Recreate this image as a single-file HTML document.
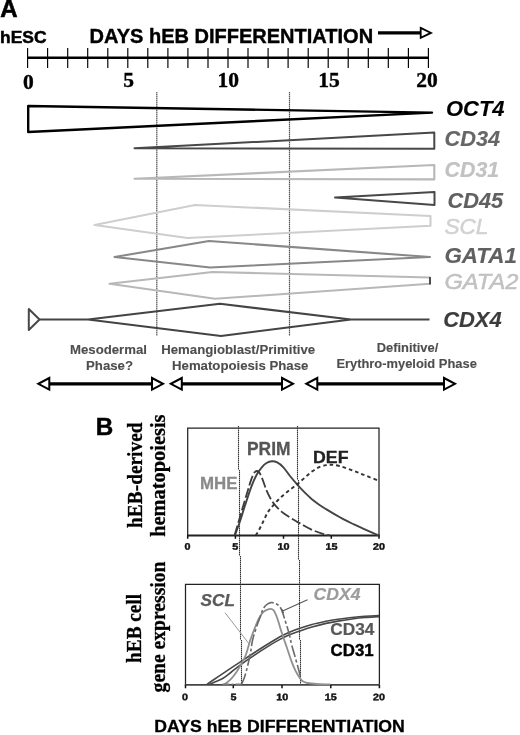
<!DOCTYPE html>
<html>
<head>
<meta charset="utf-8">
<title>Figure</title>
<style>
html,body{margin:0;padding:0;background:#fff;}
svg{display:block;filter:blur(0.4px);}
svg{font-family:"Liberation Sans",Arial,sans-serif;}
.bs{font-family:"Liberation Sans",Arial,sans-serif;font-weight:bold;}
.bi{font-family:"Liberation Sans",Arial,sans-serif;font-weight:bold;font-style:italic;}
.se{font-family:"Liberation Serif","Times New Roman",serif;font-weight:bold;}
</style>
</head>
<body>
<svg width="520" height="735" viewBox="0 0 520 735">
<rect width="520" height="735" fill="#fff"/>

<!-- ===== Panel A header ===== -->
<text class="bs" x="0.2" y="17.3" font-size="24" fill="#000" stroke="#000" stroke-width="0.6">A</text>
<text class="bs" x="0.1" y="42.9" font-size="17.2" fill="#000" stroke="#000" stroke-width="0.5" textLength="46.4" lengthAdjust="spacingAndGlyphs">hESC</text>
<text class="bs" x="89.6" y="42.9" font-size="20" fill="#000" stroke="#000" stroke-width="0.4" textLength="283.5" lengthAdjust="spacingAndGlyphs">DAYS hEB DIFFERENTIATION</text>
<!-- header arrow -->
<line x1="378" y1="32.9" x2="421" y2="32.9" stroke="#000" stroke-width="3.4"/>
<path d="M420.7 27.9 L431 32.9 L420.7 37.9 Z" fill="#fff" stroke="#000" stroke-width="1.8"/>

<!-- axis -->
<g stroke="#000" stroke-width="1.15" fill="none">
<line x1="27.5" y1="57.8" x2="428.5" y2="57.8" stroke-width="2.4"/>
<path d="M27.6 48V68 M47.6 48V68 M67.7 48V68 M87.7 48V68 M107.8 48V68 M127.8 48V68 M147.8 48V68 M167.9 48V68 M187.9 48V68 M208 48V68 M228 48V68 M248 48V68 M268.1 48V68 M288.1 48V68 M308.2 48V68 M328.2 48V68 M348.2 48V68 M368.3 48V68 M388.3 48V68 M408.4 48V68 M428.4 48V68"/>
</g>
<g class="se" font-size="21.5" fill="#000" stroke="#000" stroke-width="0.4" text-anchor="middle">
<text x="28.3" y="88.8">0</text>
<text x="128.7" y="87.1">5</text>
<text x="228.3" y="87.1">10</text>
<text x="328.9" y="86.6">15</text>
<text x="427.1" y="86.6">20</text>
</g>

<!-- vertical dotted lines panel A -->
<g stroke="#555" stroke-width="1.2" stroke-dasharray="1.4 0.6" fill="none">
<line x1="156.8" y1="92" x2="156.8" y2="336"/>
<line x1="289.5" y1="92" x2="289.5" y2="336"/>
</g>

<!-- shapes -->
<g fill="none" stroke-linejoin="round">
<!-- OCT4 -->
<path d="M432 112.6 L28.2 106 L28.2 132 Z" stroke="#000" stroke-width="2.4" stroke-linejoin="round"/>
<!-- CD34 -->
<path d="M134.5 148.3 L434.3 132.6 L434.3 148.8 Z" stroke="#484848" stroke-width="2"/>
<!-- CD31 -->
<path d="M134.5 178.8 L434.3 165 L434.3 179.4 Z" stroke="#b8b8b8" stroke-width="2.1"/>
<!-- CD45 -->
<path d="M335 197.5 L434.5 192 L434.5 205 Z" stroke="#484848" stroke-width="2"/>
<!-- SCL -->
<path d="M94.5 225 L195 205 L430.5 216 L430.5 225.8 L187.5 238 Z" stroke="#cecece" stroke-width="2.1"/>
<!-- GATA1 -->
<path d="M114.5 257 L209 241 L430 257 L210 267.5 Z" stroke="#888" stroke-width="2.1"/>
<!-- GATA2 -->
<path d="M109.5 283.8 L212.5 272 L430 277.5 L430 283.8 L215 298.8 Z" stroke="#b8b8b8" stroke-width="2.1"/>
<line x1="430" y1="277" x2="430" y2="284.5" stroke="#333" stroke-width="1.6"/>
<!-- CDX4 -->
<path d="M28.8 309 L39.5 319.5 L28.8 330 Z" stroke="#484848" stroke-width="2"/>
<path d="M39.5 319.5 L88 319.5 L220 303.8 L351 319.5 L429.5 319.5 M351 319.5 L221 336 L88 319.5" stroke="#444" stroke-width="2.1"/>
</g>

<!-- gene labels -->
<g class="bi" font-size="22" stroke-width="0.15">
<text x="446" y="116.4" fill="#000" stroke="#000" textLength="58.5" lengthAdjust="spacingAndGlyphs">OCT4</text>
<text x="444.6" y="146.4" fill="#666" stroke="#666" textLength="55.5" lengthAdjust="spacingAndGlyphs">CD34</text>
<text x="444.6" y="177" fill="#c2c2c2" stroke="#c2c2c2" stroke-width="0.2" textLength="54.5" lengthAdjust="spacingAndGlyphs">CD31</text>
<text x="447.6" y="208" fill="#606060" stroke="#606060" textLength="55.5" lengthAdjust="spacingAndGlyphs">CD45</text>
<text x="444.4" y="234.3" fill="#d2d2d2" stroke="#d0d0d0" stroke-width="0.5" font-weight="normal" textLength="44" lengthAdjust="spacingAndGlyphs">SCL</text>
<text x="444.4" y="262.8" fill="#606060" stroke="#606060" textLength="72.5" lengthAdjust="spacingAndGlyphs">GATA1</text>
<text x="444.4" y="289" fill="#c2c2c2" stroke="#c0c0c0" stroke-width="0.5" font-weight="normal" textLength="74" lengthAdjust="spacingAndGlyphs">GATA2</text>
<text x="443.2" y="327.4" fill="#3c3c3c" stroke="#3c3c3c" textLength="58.5" lengthAdjust="spacingAndGlyphs">CDX4</text>
</g>

<!-- phase labels -->
<g class="bs" font-size="13.2" fill="#4e4e4e" stroke="#4e4e4e" stroke-width="0.12" text-anchor="middle">
<text x="108.5" y="353.8">Mesodermal</text>
<text x="109.5" y="369.8">Phase?</text>
<text x="238.2" y="353.8">Hemangioblast/Primitive</text>
<text x="240.2" y="369.8">Hematopoiesis Phase</text>
<text x="407.5" y="351.8" font-size="12.9">Definitive/</text>
<text x="406.6" y="367.9" font-size="12.9">Erythro-myeloid Phase</text>
</g>

<!-- phase arrows -->
<g stroke="#000" fill="#fff">
<line x1="48" y1="383.8" x2="152" y2="383.8" stroke-width="3.2"/>
<path d="M49.3 378 L38.3 383.8 L49.3 389.6 Z" stroke-width="2"/>
<path d="M152 378 L163 383.8 L152 389.6 Z" stroke-width="2"/>
<line x1="181" y1="383.8" x2="282" y2="383.8" stroke-width="3.2"/>
<path d="M181.8 378 L170.8 383.8 L181.8 389.6 Z" stroke-width="2"/>
<path d="M282 378 L293 383.8 L282 389.6 Z" stroke-width="2"/>
<line x1="317" y1="383.8" x2="444" y2="383.8" stroke-width="3.2"/>
<path d="M317.3 378 L306.3 383.8 L317.3 389.6 Z" stroke-width="2"/>
<path d="M444 378 L455 383.8 L444 389.6 Z" stroke-width="2"/>
</g>

<!-- ===== Panel B ===== -->
<text class="bs" x="95.8" y="434.6" font-size="24.2" fill="#000" stroke="#000" stroke-width="0.5">B</text>

<!-- y labels -->
<g class="se" font-size="21" fill="#000" stroke="#000" stroke-width="0.3" lengthAdjust="spacingAndGlyphs">
<text transform="translate(142.2 527.9) rotate(-90)" textLength="105.4" lengthAdjust="spacingAndGlyphs">hEB-derived</text>
<text transform="translate(164.9 536.8) rotate(-90)" textLength="122.3" lengthAdjust="spacingAndGlyphs">hematopoiesis</text>
<text transform="translate(141.3 662.9) rotate(-90)" textLength="69" lengthAdjust="spacingAndGlyphs">hEB cell</text>
<text transform="translate(164.9 692.4) rotate(-90)" textLength="130.9" lengthAdjust="spacingAndGlyphs">gene expression</text>
</g>

<!-- top chart -->
<path d="M187.7 535.6 V428 H379 V535.6" fill="none" stroke="#222" stroke-width="1.25"/>
<line x1="187" y1="535.5" x2="379.7" y2="535.5" stroke="#222" stroke-width="2"/>
<path d="M187.7 535.6v3.2 M235.4 535.6v3.2 M283.5 535.6v3.2 M331.3 535.6v3.2 M379 535.6v3.2" stroke="#111" stroke-width="1.5" fill="none"/>
<g class="bs" font-size="9.5" fill="#111" stroke="#111" stroke-width="0.4">
<text transform="translate(184.6 549.7) rotate(0.05)" textLength="6.0" lengthAdjust="spacingAndGlyphs">0</text><text transform="translate(232.3 549.7) rotate(0.05)" textLength="6.0" lengthAdjust="spacingAndGlyphs">5</text><text transform="translate(277.5 549.7) rotate(0.05)" textLength="12.0" lengthAdjust="spacingAndGlyphs">10</text><text transform="translate(325.6 549.7) rotate(0.05)" textLength="12.0" lengthAdjust="spacingAndGlyphs">15</text><text transform="translate(372.9 549.7) rotate(0.05)" textLength="12.0" lengthAdjust="spacingAndGlyphs">20</text>
</g>
<!-- dotted verticals panel B -->
<g stroke="#333" stroke-width="1.1" stroke-dasharray="1.5 0.5" fill="none">
<path d="M238.5 426V470 M239.5 470V556 M240.5 556V640 M241.5 640V685"/>
<path d="M297.5 426V480 M298.5 480V560 M299.5 560V640 M300.5 640V685"/>
</g>
<g fill="none" stroke-width="1.9" stroke-linecap="butt">
<!-- PRIM -->
<path d="M234.9 535.3 C235.7 533.2 237.8 527.6 239.5 522.7 C241.2 517.8 243.0 511.7 244.9 505.8 C246.8 499.9 249.2 492.4 251.1 487.3 C253.0 482.2 254.7 478.3 256.5 475.0 C258.3 471.7 260.1 469.3 261.8 467.3 C263.5 465.3 264.8 464.0 266.5 463.0 C268.2 462.0 270.0 461.3 271.8 461.2 C273.6 461.1 275.3 461.4 277.2 462.4 C279.1 463.4 281.3 465.0 283.4 467.3 C285.5 469.6 287.7 473.1 290.0 476.0 C292.3 478.9 294.9 481.9 297.3 484.6 C299.7 487.3 302.2 490.0 304.6 492.4 C307.0 494.8 309.5 497.1 311.9 499.2 C314.3 501.2 316.8 503.0 319.2 504.7 C321.6 506.4 323.8 507.7 326.5 509.4 C329.2 511.1 332.6 513.1 335.7 514.9 C338.8 516.6 341.8 518.3 344.8 519.9 C347.8 521.5 350.8 522.9 353.9 524.4 C356.9 525.9 360.1 527.2 363.1 528.6 C366.2 530.0 369.6 531.5 372.2 532.6 C374.8 533.7 377.5 534.9 378.6 535.4" stroke="#444"/>
<!-- MHE -->
<path d="M234.6 535.3 C235.2 533.2 236.9 527.4 238.3 522.7 C239.7 518.0 241.3 512.4 242.8 507.3 C244.3 502.2 246.0 496.5 247.4 491.9 C248.8 487.3 250.0 482.9 251.2 479.6 C252.4 476.4 253.5 473.8 254.5 472.4 C255.5 471.0 256.4 470.9 257.2 471.0 C258.0 471.1 258.6 471.3 259.5 472.7 C260.4 474.1 261.4 476.7 262.6 479.6 C263.8 482.6 265.1 487.1 266.5 490.4 C267.9 493.7 269.6 497.0 271.1 499.6 C272.6 502.2 273.9 503.8 275.7 505.8 C277.5 507.9 279.4 509.9 281.8 511.9 C284.2 513.9 287.4 515.8 290.0 517.5 C292.6 519.2 294.9 520.5 297.3 521.9 C299.7 523.3 301.9 524.5 304.6 526.0 C307.3 527.5 310.6 529.3 313.7 530.6 C316.8 531.9 320.3 533.0 322.9 533.8 C325.5 534.6 328.4 535.0 329.5 535.3" stroke="#3c3c3c" stroke-width="1.8" stroke-dasharray="10 3"/>
<!-- DEF -->
<path d="M255.7 535.3 C256.2 534.5 257.5 532.8 258.8 530.4 C260.1 528.0 261.9 524.3 263.4 521.2 C264.9 518.1 266.2 514.7 268.0 511.9 C269.8 509.1 271.9 506.8 274.2 504.2 C276.5 501.6 279.2 498.9 281.8 496.5 C284.4 494.1 287.4 491.8 290.0 489.7 C292.6 487.6 294.9 486.2 297.3 484.2 C299.7 482.2 302.2 479.9 304.6 477.8 C307.0 475.7 309.5 473.4 311.9 471.6 C314.3 469.8 316.8 468.2 319.2 467.1 C321.6 466.0 324.4 465.5 326.5 465.1 C328.6 464.7 329.9 464.7 332.0 464.8 C334.1 464.9 336.6 465.3 339.3 466.0 C342.1 466.7 345.4 467.9 348.5 469.0 C351.6 470.1 354.6 471.2 357.6 472.4 C360.6 473.6 363.2 474.6 366.7 476.0 C370.2 477.4 376.6 479.9 378.6 480.7" stroke="#333" stroke-dasharray="3.6 3"/>
</g>
<text class="bs" x="200" y="489" font-size="16.5" fill="#8a8a8a" stroke="#8a8a8a" stroke-width="0.3" textLength="37.5" lengthAdjust="spacingAndGlyphs">MHE</text>
<text class="bs" x="247" y="455.4" font-size="18.5" fill="#555" stroke="#555" stroke-width="0.3" textLength="43.5" lengthAdjust="spacingAndGlyphs">PRIM</text>
<text class="bs" x="313" y="463" font-size="17" fill="#222" stroke="#222" stroke-width="0.3" textLength="35.5" lengthAdjust="spacingAndGlyphs">DEF</text>

<!-- bottom chart -->
<path d="M185.5 685 V584.3 H379.4 V685" fill="none" stroke="#222" stroke-width="1.25"/>
<line x1="184.8" y1="684.8" x2="380" y2="684.8" stroke="#444" stroke-width="1.8"/>
<path d="M185.5 685v3.2 M233.3 685v3.2 M282 685v3.2 M330.8 685v3.2 M379.4 685v3.2" stroke="#111" stroke-width="1.5" fill="none"/>
<g class="bs" font-size="9.5" fill="#111" stroke="#111" stroke-width="0.4">
<text transform="translate(182.1 700.3) rotate(0.05)" textLength="6.0" lengthAdjust="spacingAndGlyphs">0</text><text transform="translate(230.5 700.3) rotate(0.05)" textLength="6.0" lengthAdjust="spacingAndGlyphs">5</text><text transform="translate(276.2 700.3) rotate(0.05)" textLength="12.0" lengthAdjust="spacingAndGlyphs">10</text><text transform="translate(324.8 700.3) rotate(0.05)" textLength="12.0" lengthAdjust="spacingAndGlyphs">15</text><text transform="translate(373.0 700.3) rotate(0.05)" textLength="12.0" lengthAdjust="spacingAndGlyphs">20</text>
</g>
<g fill="none" stroke-width="1.6">
<!-- CD34 / CD31 -->
<path d="M206.9 684.4 C208.1 683.6 211.3 681.4 214.0 679.5 C216.7 677.6 220.1 675.3 223.1 673.3 C226.1 671.3 229.1 669.3 232.0 667.4 C234.9 665.5 237.8 663.6 240.8 661.6 C243.8 659.6 246.8 657.6 250.0 655.5 C253.2 653.4 256.7 651.1 260.0 649.0 C263.3 646.9 266.7 644.8 270.0 642.8 C273.3 640.8 276.7 638.6 280.0 636.8 C283.3 635.0 286.7 633.4 290.0 632.0 C293.3 630.6 296.3 629.5 300.0 628.3 C303.7 627.0 307.7 625.7 312.0 624.5 C316.3 623.3 321.7 622.2 326.0 621.3 C330.3 620.4 333.7 619.9 338.0 619.3 C342.3 618.7 347.4 618.0 351.9 617.5 C356.4 617.0 360.5 616.6 365.0 616.3 C369.5 616.0 376.7 615.6 379.0 615.5" stroke="#484848" stroke-width="1.6"/>
<path d="M209.2 684.4 C210.2 684.0 213.1 682.8 215.4 681.8 C217.7 680.8 220.5 679.8 223.1 678.3 C225.7 676.8 227.9 674.8 230.8 672.5 C233.8 670.2 237.0 667.4 240.8 664.6 C244.6 661.8 249.1 658.8 253.8 655.6 C258.5 652.4 264.8 648.3 269.2 645.6 C273.6 642.9 276.5 641.2 280.0 639.4 C283.5 637.6 286.7 636.0 290.0 634.6 C293.3 633.2 296.3 632.2 300.0 630.9 C303.7 629.6 307.7 628.2 312.0 627.0 C316.3 625.8 321.7 624.4 326.0 623.4 C330.3 622.4 333.7 621.8 338.0 621.1 C342.3 620.4 347.4 619.6 351.9 619.0 C356.4 618.4 360.5 617.9 365.0 617.5 C369.5 617.1 376.7 616.8 379.0 616.6" stroke="#484848" stroke-width="1.6"/>
<!-- SCL -->
<path d="M224.2 684.6 C225.2 683.8 228.3 681.7 230.4 679.6 C232.5 677.5 234.7 674.5 236.5 671.9 C238.3 669.3 239.6 667.0 241.2 664.2 C242.8 661.4 244.3 658.9 245.8 655.0 C247.3 651.1 248.5 645.4 250.0 641.0 C251.5 636.6 253.1 632.3 254.6 628.5 C256.1 624.7 257.8 620.6 259.2 618.0 C260.6 615.4 261.5 613.9 262.7 612.6 C263.9 611.3 264.8 610.8 266.2 610.2 C267.6 609.6 269.6 608.8 270.8 608.8 C272.0 608.8 272.6 609.2 273.5 610.2 C274.4 611.2 275.1 612.8 276.0 614.8 C276.9 616.8 277.8 619.7 278.6 622.3 C279.4 624.9 280.1 627.7 281.0 630.4 C281.9 633.1 282.8 635.8 283.7 638.5 C284.6 641.2 285.4 643.3 286.6 646.8 C287.8 650.3 289.4 655.7 290.9 659.6 C292.3 663.5 293.8 667.3 295.3 670.4 C296.8 673.5 298.6 676.2 299.8 678.0 C301.0 679.8 301.4 680.4 302.7 681.2 C303.9 682.0 305.0 682.5 307.3 683.0 C309.6 683.5 312.6 683.8 316.5 684.0 C320.4 684.2 328.1 684.3 330.4 684.4" stroke="#909090" stroke-width="1.8"/>
<!-- CDX4 -->
<path d="M222.5 684.4 H241" stroke="#777" stroke-dasharray="7 2 2 2"/>
<path d="M241.4 684.6 C241.9 683.5 243.2 680.9 244.2 678.0 C245.2 675.1 246.3 671.4 247.3 667.3 C248.3 663.2 249.5 658.0 250.4 653.5 C251.3 649.0 251.5 644.6 252.6 640.0 C253.7 635.4 255.6 629.7 256.9 625.8 C258.2 621.9 259.4 619.2 260.4 616.5 C261.4 613.8 261.7 611.7 262.7 609.8 C263.7 607.9 264.8 606.2 266.2 605.0 C267.6 603.8 269.3 602.9 270.8 602.6 C272.3 602.4 274.0 602.9 275.4 603.5 C276.8 604.1 278.3 605.0 279.4 606.2 C280.5 607.4 281.0 608.7 281.9 610.8 C282.8 612.9 283.7 615.9 284.6 618.8 C285.5 621.7 286.6 625.0 287.5 628.0 C288.4 631.0 289.1 633.5 289.8 636.5 C290.5 639.5 291.0 642.5 291.9 645.8 C292.8 649.1 294.0 652.9 295.0 656.5 C296.0 660.1 297.1 664.0 298.0 667.3 C298.9 670.6 300.0 675.0 300.4 676.5" stroke="#6a6a6a" stroke-width="1.6" stroke-dasharray="12 2.5 3 2.5"/>
<!-- pointers -->
<path d="M225 612.7 L248.8 643.5" stroke="#999" stroke-width="1"/>
<path d="M307.5 599.8 L282.6 611 M281.7 609 L283.6 613" stroke="#555" stroke-width="1.1"/>
</g>
<text class="bi" x="200.6" y="606.4" font-size="17" fill="#5a5a5a" stroke="#5a5a5a" stroke-width="0.25" textLength="34.5" lengthAdjust="spacingAndGlyphs">SCL</text>
<text class="bi" x="313.6" y="600" font-size="17" fill="#9c9c9c" stroke="#9c9c9c" stroke-width="0.2" textLength="46.8" lengthAdjust="spacingAndGlyphs">CDX4</text>
<text class="bs" x="330.2" y="634.7" font-size="15.7" fill="#585858" stroke="#585858" stroke-width="0.2" textLength="44.2" lengthAdjust="spacingAndGlyphs">CD34</text>
<text class="bs" x="330.6" y="656.2" font-size="15.8" fill="#000" stroke="#000" stroke-width="0.4" textLength="43" lengthAdjust="spacingAndGlyphs">CD31</text>

<text class="bs" x="154.3" y="731.7" font-size="17.4" fill="#000" stroke="#000" stroke-width="0.3" textLength="250.6" lengthAdjust="spacingAndGlyphs">DAYS hEB DIFFERENTIATION</text>
</svg>
</body>
</html>
